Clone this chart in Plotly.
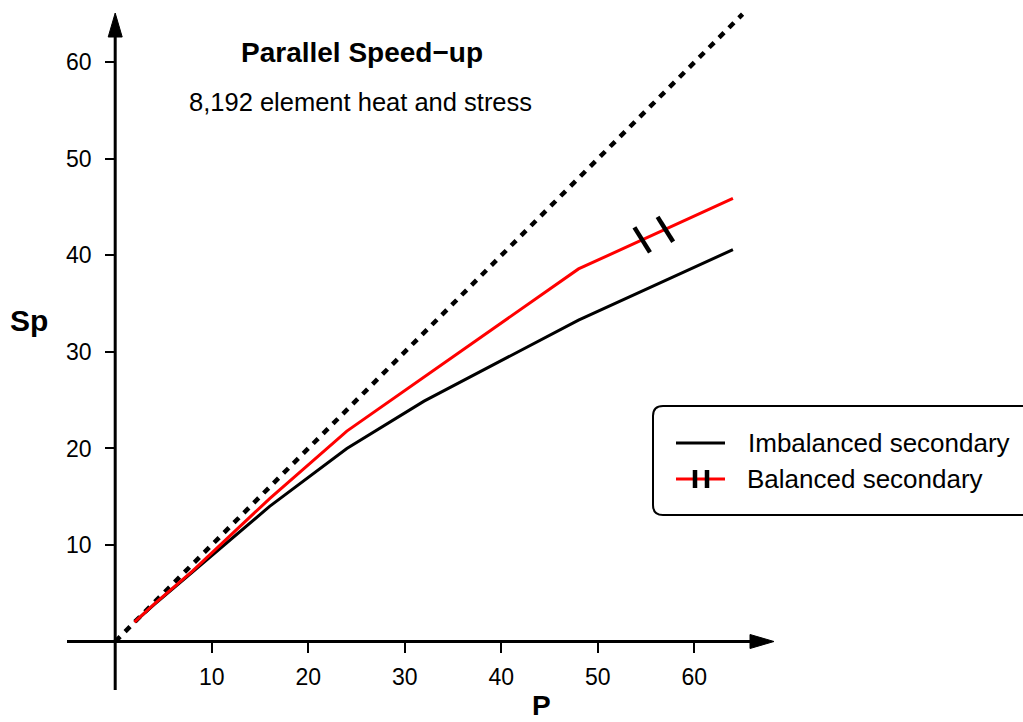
import numpy as np
import plotly.graph_objects as go

# ---------------- data ----------------
procs = [2, 4, 8, 16, 24, 32, 48, 64]
sp_imbalanced = [2.0, 3.8, 7.2, 14.0, 20.0, 24.9, 33.3, 40.6]
sp_balanced = [2.0, 3.85, 7.3, 14.8, 21.8, 27.4, 38.6, 45.9]
ideal_p = [0, 65]
ideal_sp = [0, 65]
break_p = [54.6, 57.0]
x_ticks = [10, 20, 30, 40, 50, 60]
y_ticks = [10, 20, 30, 40, 50, 60]
title_text = "Parallel Speed\u2212up"
subtitle_text = "8,192 element heat and stress"
legend_labels = ["Imbalanced secondary", "Balanced secondary"]
x_label = "P"
y_label = "Sp"

# ---------------- layout geometry (pixels) ----------------
W, H = 1023, 722
X0, Y0, SCALE = 115.2, 641.5, 9.652  # pixel position of origin, px per unit

def px(x):
    return x / W

def py(y):
    return 1 - y / H

xr = [-X0 / SCALE, (W - X0) / SCALE]
yr = [-(H - Y0) / SCALE, Y0 / SCALE]

FONT = "Liberation Sans, Arial, Helvetica, sans-serif"
BLACK = "#000000"
RED = "#ff0000"

fig = go.Figure()

fig.add_trace(go.Scatter(x=ideal_p, y=ideal_sp, mode="lines",
                         line=dict(color=BLACK, width=4.5, dash="7px,7px"),
                         showlegend=False, hoverinfo="skip"))
fig.add_trace(go.Scatter(x=procs, y=sp_imbalanced, mode="lines",
                         line=dict(color=BLACK, width=3), name=legend_labels[0],
                         showlegend=False))
fig.add_trace(go.Scatter(x=procs, y=sp_balanced, mode="lines",
                         line=dict(color=RED, width=3), name=legend_labels[1],
                         showlegend=False))
break_sp = list(np.interp(break_p, procs, sp_balanced))
fig.add_trace(go.Scatter(x=break_p, y=break_sp, mode="markers",
                         marker=dict(symbol="line-ns", size=21, angle=-32,
                                     line=dict(color=BLACK, width=4.5)),
                         showlegend=False, hoverinfo="skip"))

shapes = []
# x axis line + arrow
shapes.append(dict(type="line", xref="paper", yref="paper",
                   x0=px(67), y0=py(Y0), x1=px(756), y1=py(Y0),
                   line=dict(color=BLACK, width=3)))
shapes.append(dict(type="path", xref="paper", yref="paper",
                   path=f"M {px(750)},{py(Y0-7)} L {px(774)},{py(Y0)} L {px(750)},{py(Y0+7)} Z",
                   fillcolor=BLACK, line=dict(color=BLACK, width=1)))
# y axis line + arrow
shapes.append(dict(type="line", xref="paper", yref="paper",
                   x0=px(X0), y0=py(690), x1=px(X0), y1=py(32),
                   line=dict(color=BLACK, width=3)))
shapes.append(dict(type="path", xref="paper", yref="paper",
                   path=f"M {px(X0-7)},{py(37)} L {px(X0)},{py(13)} L {px(X0+7)},{py(37)} Z",
                   fillcolor=BLACK, line=dict(color=BLACK, width=1)))

# legend box (rounded, clipped at right edge)
L, T, B, R, RAD = 653, 406, 515, 1045, 10
shapes.append(dict(type="path", xref="paper", yref="paper",
                   path=(f"M {px(R)},{py(T)} L {px(L+RAD)},{py(T)} "
                         f"Q {px(L)},{py(T)} {px(L)},{py(T+RAD)} "
                         f"L {px(L)},{py(B-RAD)} Q {px(L)},{py(B)} {px(L+RAD)},{py(B)} "
                         f"L {px(R)},{py(B)}"),
                   line=dict(color=BLACK, width=2)))
# legend samples
shapes.append(dict(type="line", xref="paper", yref="paper",
                   x0=px(676), y0=py(443), x1=px(725), y1=py(443),
                   line=dict(color=BLACK, width=3)))
shapes.append(dict(type="line", xref="paper", yref="paper",
                   x0=px(676), y0=py(479), x1=px(725), y1=py(479),
                   line=dict(color=RED, width=3)))
for bx in (695, 707):
    shapes.append(dict(type="line", xref="paper", yref="paper",
                       x0=px(bx), y0=py(470), x1=px(bx), y1=py(488),
                       line=dict(color=BLACK, width=4.5)))

annotations = [
    dict(text=f"<b>{title_text}</b>", x=px(362), y=py(53), xref="paper", yref="paper",
         showarrow=False, xanchor="center", yanchor="middle",
         font=dict(family=FONT, size=28, color=BLACK)),
    dict(text=subtitle_text, x=px(360), y=py(102), xref="paper", yref="paper",
         showarrow=False, xanchor="center", yanchor="middle",
         font=dict(family=FONT, size=25.5, color=BLACK)),
    dict(text=f"<b>{y_label}</b>", x=px(29), y=py(320), xref="paper", yref="paper",
         showarrow=False, xanchor="center", yanchor="middle",
         font=dict(family=FONT, size=30, color=BLACK)),
    dict(text=f"<b>{x_label}</b>", x=px(541), y=py(723), xref="paper", yref="paper",
         showarrow=False, xanchor="center", yanchor="bottom",
         font=dict(family=FONT, size=28, color=BLACK)),
    dict(text=legend_labels[0], x=px(746), y=py(443), xref="paper", yref="paper",
         showarrow=False, xanchor="left", yanchor="middle",
         font=dict(family=FONT, size=26, color=BLACK)),
    dict(text=legend_labels[1], x=px(745), y=py(479), xref="paper", yref="paper",
         showarrow=False, xanchor="left", yanchor="middle",
         font=dict(family=FONT, size=26, color=BLACK)),
]

fig.update_layout(
    width=W, height=H,
    margin=dict(l=0, r=0, t=0, b=0),
    paper_bgcolor="white", plot_bgcolor="white",
    showlegend=False,
    shapes=shapes,
    annotations=annotations,
    xaxis=dict(range=xr, anchor="free", position=py(Y0), showgrid=False,
               zeroline=False, showline=False, tickmode="array", tickvals=x_ticks,
               ticktext=[str(v) for v in x_ticks],
               ticks="outside", ticklen=10, tickwidth=2, tickcolor=BLACK,
               ticklabelstandoff=5,
               tickfont=dict(family=FONT, size=23, color=BLACK)),
    yaxis=dict(range=yr, anchor="free", position=px(X0), showgrid=False,
               zeroline=False, showline=False, tickmode="array", tickvals=y_ticks,
               ticktext=[str(v) for v in y_ticks],
               ticks="outside", ticklen=10, tickwidth=2, tickcolor=BLACK,
               ticklabelstandoff=9,
               tickfont=dict(family=FONT, size=23, color=BLACK)),
)

fig.write_html("out.html", config=dict(displayModeBar=False))
